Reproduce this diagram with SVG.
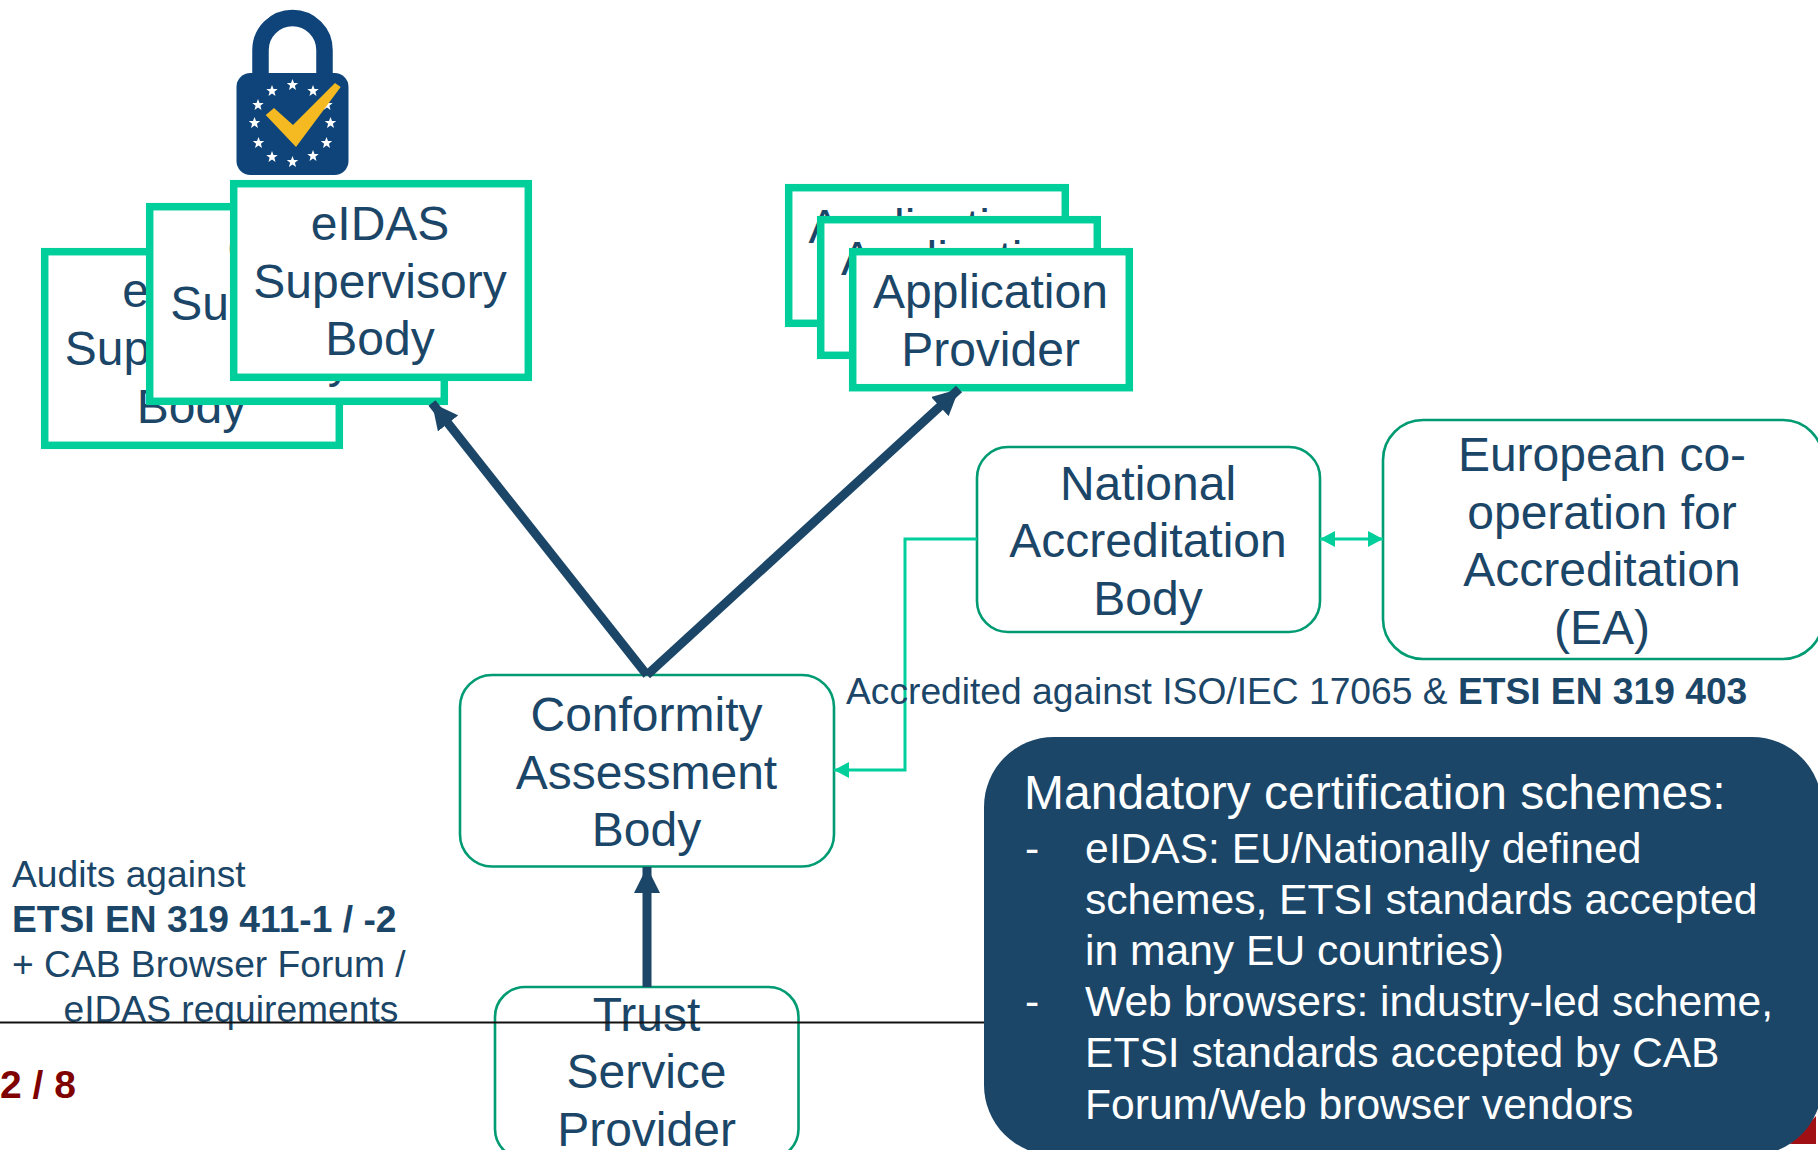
<svg xmlns="http://www.w3.org/2000/svg" xmlns:xlink="http://www.w3.org/1999/xlink" width="1818" height="1150" viewBox="0 0 1818 1150">
<style>
text{font-family:"Liberation Sans",Arial,sans-serif;fill:#1b4668}
.n{font-size:48px;text-anchor:middle}
.s{font-size:37.200px}
.w{fill:#fff}
.h{font-size:48px}
.l{font-size:42.600px}
.b{font-weight:bold}
.sq{fill:#fff;stroke:#00cf9b;stroke-width:7.5}
.rd{fill:#fff;stroke:#009b72;stroke-width:2.6}
.thick{fill:none;stroke:#1b4668;stroke-width:9}
.thin{fill:none;stroke:#00cf9b;stroke-width:3}
</style>
<defs>
<marker id="ah" markerUnits="userSpaceOnUse" viewBox="0 0 26 26" refX="26" refY="13" markerWidth="26" markerHeight="26" orient="auto"><path d="M0 0L26 13L0 26Z" fill="#1b4668"/></marker>
<marker id="gh" markerUnits="userSpaceOnUse" viewBox="0 0 15 16" refX="15" refY="8" markerWidth="15" markerHeight="16" orient="auto"><path d="M0 0L15 8L0 16Z" fill="#00cf9b"/></marker>
<marker id="gs" markerUnits="userSpaceOnUse" viewBox="0 0 15 16" refX="0" refY="8" markerWidth="15" markerHeight="16" orient="auto"><path d="M15 0L0 8L15 16Z" fill="#00cf9b"/></marker>
<polygon id="st" fill="#fff" points="0,-6 1.5,-1.9 5.7,-1.9 2.4,0.8 3.5,4.9 0,2.5 -3.5,4.9 -2.4,0.8 -5.7,-1.9 -1.5,-1.9"/>
</defs>
<g id="logo">
<path d="M260.500 80V50a32 32 0 0 1 64 0V80" fill="none" stroke="#0e4479" stroke-width="16.500"/>
<rect x="236.500" y="73" width="112" height="102" rx="14" fill="#0e4479"/>
<use xlink:href="#st" href="#st" x="292.500" y="85"/>
<use xlink:href="#st" href="#st" x="272" y="91"/>
<use xlink:href="#st" href="#st" x="313" y="91"/>
<use xlink:href="#st" href="#st" x="258" y="105"/>
<use xlink:href="#st" href="#st" x="327" y="105"/>
<use xlink:href="#st" href="#st" x="254.500" y="123"/>
<use xlink:href="#st" href="#st" x="330.500" y="123"/>
<use xlink:href="#st" href="#st" x="258.500" y="143"/>
<use xlink:href="#st" href="#st" x="326.500" y="143"/>
<use xlink:href="#st" href="#st" x="272" y="157"/>
<use xlink:href="#st" href="#st" x="313" y="156"/>
<use xlink:href="#st" href="#st" x="292.500" y="162"/>
<polygon points="265.700,115 274,108 293,125 335,83 340.700,87 296,147" fill="#f5b921"/>
</g>
<g id="sb-back"><rect class="sq" x="44.700" y="251.700" width="294.600" height="193.600"/><text class="n"><tspan x="191.500" y="307">eIDAS</tspan><tspan x="191.500" y="365">Supervisory</tspan><tspan x="191.500" y="423">Body</tspan></text></g>
<g id="sb-mid"><rect class="sq" x="149.700" y="206.700" width="294.600" height="194.600"/><text class="n"><tspan x="297" y="262">eIDAS</tspan><tspan x="297" y="320">Supervisory</tspan><tspan x="297" y="377">Body</tspan></text></g>
<g id="sb-front"><rect class="sq" x="233.700" y="183.700" width="294.600" height="193.600"/><text class="n"><tspan x="380" y="240">eIDAS</tspan><tspan x="380" y="298">Supervisory</tspan><tspan x="380" y="355">Body</tspan></text></g>
<g id="ap-back"><rect class="sq" x="788.700" y="187.700" width="276.600" height="135.600"/><text class="n"><tspan x="926" y="243">Application</tspan><tspan x="926" y="302">Provider</tspan></text></g>
<g id="ap-mid"><rect class="sq" x="820.700" y="219.700" width="276.600" height="135.600"/><text class="n"><tspan x="958.500" y="275">Application</tspan><tspan x="958.500" y="334">Provider</tspan></text></g>
<g id="ap-front"><rect class="sq" x="852.700" y="251.700" width="276.600" height="136"/><text class="n"><tspan x="990.500" y="308">Application</tspan><tspan x="990.500" y="366">Provider</tspan></text></g>
<g id="nab"><rect class="rd" x="977" y="447" width="343" height="185" rx="31"/><text class="n"><tspan x="1148" y="500">National</tspan><tspan x="1148" y="557">Accreditation</tspan><tspan x="1148" y="615">Body</tspan></text></g>
<g id="ea"><rect class="rd" x="1383" y="420" width="440" height="239" rx="40"/><text class="n"><tspan x="1602" y="471">European co-</tspan><tspan x="1602" y="529">operation for</tspan><tspan x="1602" y="586">Accreditation</tspan><tspan x="1602" y="644">(EA)</tspan></text></g>
<g id="cab"><rect class="rd" x="460" y="675" width="374" height="191.500" rx="32"/><text class="n"><tspan x="646.500" y="731">Conformity</tspan><tspan x="646.500" y="789">Assessment</tspan><tspan x="646.500" y="846">Body</tspan></text></g>
<g id="tsp"><rect class="rd" x="495" y="987" width="303.500" height="172" rx="30"/><text class="n"><tspan x="646.500" y="1031">Trust</tspan><tspan x="646.500" y="1088">Service</tspan><tspan x="646.500" y="1146">Provider</tspan></text></g>
<g id="connectors">
<path class="thick" d="M647 675L432 403" marker-end="url(#ah)"/>
<path class="thick" d="M647 675L959 389" marker-end="url(#ah)"/>
<path class="thick" d="M647 987V867" marker-end="url(#ah)"/>
<path class="thin" d="M977 539H905V770H834" marker-end="url(#gh)"/>
<path class="thin" d="M1320 539H1383" marker-start="url(#gs)" marker-end="url(#gh)"/>
</g>
<g id="label-accredited"><text class="s" x="846" y="704">Accredited against ISO/IEC 17065 &amp; <tspan class="b">ETSI EN 319 403</tspan></text></g>
<g id="label-audits"><text class="s"><tspan x="12" y="887">Audits against</tspan><tspan class="b" x="12" y="932">ETSI EN 319 411-1 / -2</tspan><tspan x="12" y="977">+ CAB Browser Forum /</tspan><tspan x="63.500" y="1022">eIDAS requirements</tspan></text></g>
<g id="page-number"><text class="b" x="0" y="1098" font-size="39" style="fill:#800000">2 / 8</text></g>
<line id="footer-rule" x1="0" y1="1022.500" x2="990" y2="1022.500" stroke="#111" stroke-width="2"/>
<polygon id="corner-mark" points="1816,1116 1816,1144 1790,1144" fill="#a00f14"/>
<g id="schemes">
<rect x="984" y="737" width="838" height="418" rx="70" fill="#1b4668"/>
<text class="w h" x="1024" y="809">Mandatory certification schemes:</text>
<text class="w l"><tspan x="1025" y="863">-</tspan><tspan x="1085" y="863">eIDAS: EU/Nationally defined</tspan><tspan x="1085" y="914">schemes, ETSI standards accepted</tspan><tspan x="1085" y="965">in many EU countries)</tspan><tspan x="1025" y="1016">-</tspan><tspan x="1085" y="1016">Web browsers: industry-led scheme,</tspan><tspan x="1085" y="1067">ETSI standards accepted by CAB</tspan><tspan x="1085" y="1119">Forum/Web browser vendors</tspan></text>
</g>
</svg>
